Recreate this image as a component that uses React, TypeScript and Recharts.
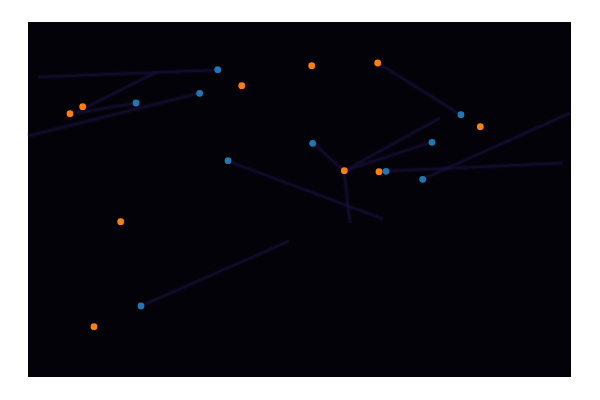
import { ScatterChart, Scatter, XAxis, YAxis, ReferenceArea } from 'recharts'

// point positions, on a 0..100 scale for both axes
const bluePoints = [
  { x: 34.94, y: 86.56 },
  { x: 19.89, y: 77.18 },
  { x: 31.62, y: 79.92 },
  { x: 36.83, y: 60.93 },
  { x: 52.43, y: 65.83 },
  { x: 79.74, y: 73.89 },
  { x: 74.4, y: 66.11 },
  { x: 65.93, y: 57.94 },
  { x: 72.69, y: 55.69 },
  { x: 20.81, y: 20.0 },
]

const orangePoints = [
  { x: 52.25, y: 87.69 },
  { x: 64.4, y: 88.45 },
  { x: 39.36, y: 82.06 },
  { x: 10.07, y: 76.14 },
  { x: 7.73, y: 74.17 },
  { x: 83.3, y: 70.51 },
  { x: 58.25, y: 58.11 },
  { x: 64.64, y: 57.83 },
  { x: 17.07, y: 43.75 },
  { x: 12.15, y: 14.17 },
]

// faint trails: start and end of each segment
const trails = [
  [{ x: 1.84, y: 84.51 }, { x: 34.99, y: 86.48 }],
  [{ x: 9.02, y: 74.65 }, { x: 23.76, y: 85.92 }],
  [{ x: 9.02, y: 74.37 }, { x: 19.89, y: 77.18 }],
  [{ x: 0, y: 67.89 }, { x: 31.68, y: 80.0 }],
  [{ x: 36.83, y: 60.85 }, { x: 65.38, y: 44.51 }],
  [{ x: 64.46, y: 88.45 }, { x: 79.74, y: 73.8 }],
  [{ x: 52.49, y: 65.92 }, { x: 58.2, y: 58.03 }],
  [{ x: 58.2, y: 58.03 }, { x: 75.87, y: 72.96 }],
  [{ x: 58.2, y: 58.03 }, { x: 74.4, y: 66.2 }],
  [{ x: 58.2, y: 58.03 }, { x: 59.3, y: 43.38 }],
  [{ x: 65.93, y: 58.03 }, { x: 98.53, y: 60.28 }],
  [{ x: 72.74, y: 55.77 }, { x: 99.82, y: 74.37 }],
  [{ x: 20.81, y: 20.0 }, { x: 48.07, y: 38.31 }],
]

const BLUE = '#1f77b4'
const ORANGE = '#ff7f0e'
const TRAIL = '#1c1240'

const noShape = () => <g />

const dot = (color: string) => (props: any) => (
  <circle cx={props.cx} cy={props.cy} r={3.4} fill={color} />
)

export default function App() {
  return (
    <ScatterChart
      width={584}
      height={384}
      margin={{ top: 14, right: 21, bottom: 15, left: 20 }}
    >
      <XAxis type="number" dataKey="x" domain={[0, 100]} hide />
      <YAxis type="number" dataKey="y" domain={[0, 100]} hide />
      <ReferenceArea x1={0} x2={100} y1={0} y2={100} fill="#030208" fillOpacity={1} stroke="none" />
      {trails.map((seg, i) => (
        <Scatter
          key={`glow-${i}`}
          data={seg}
          line={{ stroke: TRAIL, strokeWidth: 5, strokeOpacity: 0.22 }}
          shape={noShape}
          isAnimationActive={false}
        />
      ))}
      {trails.map((seg, i) => (
        <Scatter
          key={`trail-${i}`}
          data={seg}
          line={{ stroke: TRAIL, strokeWidth: 2.5, strokeOpacity: 0.45 }}
          shape={noShape}
          isAnimationActive={false}
        />
      ))}
      <Scatter data={bluePoints} shape={dot(BLUE)} isAnimationActive={false} />
      <Scatter data={orangePoints} shape={dot(ORANGE)} isAnimationActive={false} />
    </ScatterChart>
  )
}
